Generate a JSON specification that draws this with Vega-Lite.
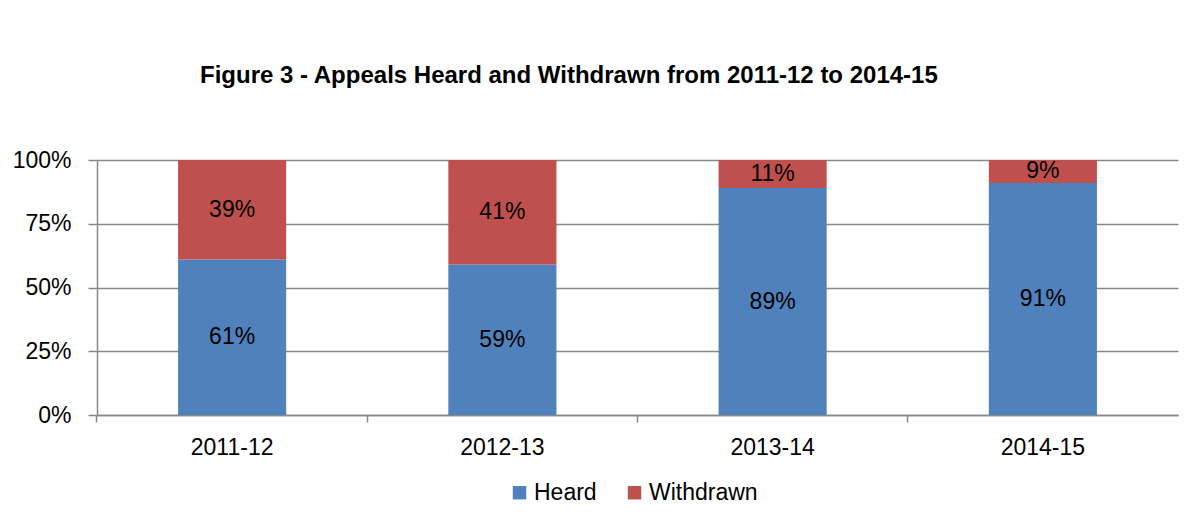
{
  "$schema": "https://vega.github.io/schema/vega-lite/v6.json",
  "width": 1081,
  "height": 255,
  "autosize": "none",
  "padding": {"left": 97, "top": 160, "right": 22, "bottom": 108},
  "background": "white",
  "config": {
    "font": "Liberation Sans",
    "view": {"stroke": null},
    "axis": {"labelFont": "Liberation Sans", "labelFontSize": 23, "labelColor": "#000000"}
  },
  "title": {
    "text": "Figure 3 - Appeals Heard and Withdrawn from 2011-12 to 2014-15",
    "font": "Liberation Sans",
    "fontSize": 24,
    "fontWeight": "bold",
    "color": "#000000",
    "anchor": "start",
    "frame": "group",
    "dx": 103,
    "offset": 61
  },
  "data": {
    "values": [
      {"year": "2011-12", "type": "Heard", "value": 0.61},
      {"year": "2011-12", "type": "Withdrawn", "value": 0.39},
      {"year": "2012-13", "type": "Heard", "value": 0.59},
      {"year": "2012-13", "type": "Withdrawn", "value": 0.41},
      {"year": "2013-14", "type": "Heard", "value": 0.89},
      {"year": "2013-14", "type": "Withdrawn", "value": 0.11},
      {"year": "2014-15", "type": "Heard", "value": 0.91},
      {"year": "2014-15", "type": "Withdrawn", "value": 0.09}
    ]
  },
  "encoding": {
    "x": {
      "field": "year",
      "type": "nominal",
      "title": null,
      "scale": {"paddingInner": 0.6, "paddingOuter": 0.3},
      "axis": {
        "labelAngle": 0,
        "domainColor": "#888888",
        "domainWidth": 1.5,
        "tickColor": "#888888",
        "tickWidth": 1.5,
        "tickSize": 7,
        "bandPosition": -0.75,
        "labelPadding": 14,
        "grid": false
      }
    }
  },
  "layer": [
    {
      "mark": {"type": "bar"},
      "encoding": {
        "y": {
          "field": "value",
          "type": "quantitative",
          "stack": "zero",
          "title": null,
          "scale": {"domain": [0, 1], "nice": false},
          "axis": {
            "values": [0, 0.25, 0.5, 0.75, 1],
            "format": ".0%",
            "grid": true,
            "gridColor": "#888888",
            "gridWidth": 1.5,
            "domainColor": "#888888",
            "domainWidth": 1.5,
            "tickColor": "#888888",
            "tickWidth": 1.5,
            "tickSize": 9,
            "labelPadding": 17
          }
        },
        "order": {"field": "type", "sort": "ascending"},
        "color": {
          "field": "type",
          "type": "nominal",
          "scale": {"domain": ["Heard", "Withdrawn"], "range": ["#4F81BD", "#C0504D"]},
          "legend": {
            "title": null,
            "orient": "none",
            "legendX": 411,
            "legendY": 321,
            "direction": "horizontal",
            "symbolType": "square",
            "symbolSize": 180,
            "symbolStrokeWidth": 0,
            "labelFontSize": 23,
            "labelFont": "Liberation Sans",
            "labelColor": "#000000",
            "labelOffset": 3,
            "columnPadding": 26
          }
        }
      }
    },
    {
      "transform": [
        {"stack": "value", "groupby": ["year"], "sort": [{"field": "type", "order": "ascending"}], "as": ["v0", "v1"]},
        {"fold": ["v0", "v1"], "as": ["edgeName", "edge"]},
        {"aggregate": [{"op": "mean", "field": "edge", "as": "mid"}, {"op": "max", "field": "value", "as": "value"}], "groupby": ["year", "type"]}
      ],
      "mark": {"type": "text", "fontSize": 23, "color": "#000000", "font": "Liberation Sans", "baseline": "middle"},
      "encoding": {
        "y": {"field": "mid", "type": "quantitative"},
        "text": {"field": "value", "type": "quantitative", "format": ".0%"}
      }
    }
  ]
}
